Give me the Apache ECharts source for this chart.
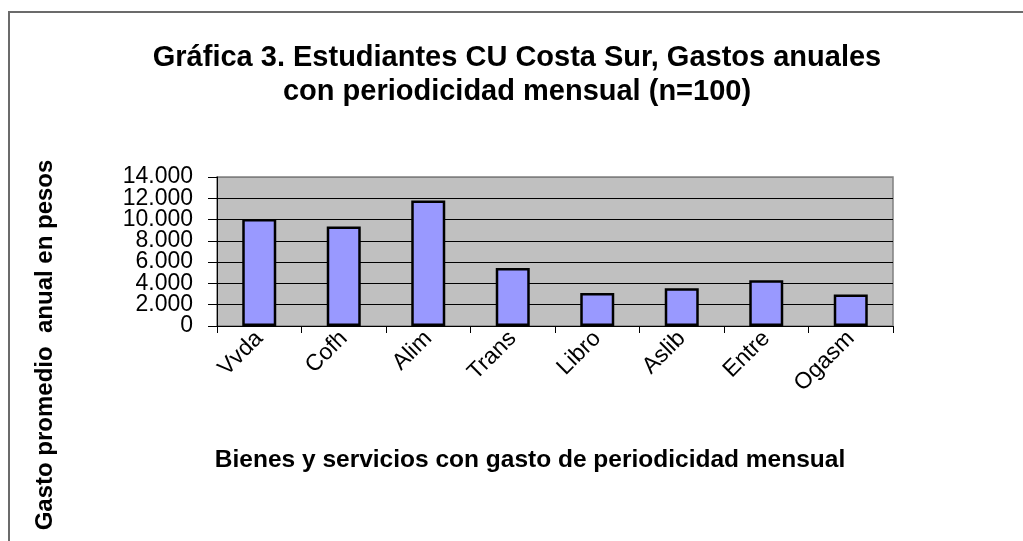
<!DOCTYPE html>
<html>
<head>
<meta charset="utf-8">
<script src="https://cdn.jsdelivr.net/npm/echarts@6/dist/echarts.min.js"></script>
<style>
  html, body { margin: 0; padding: 0; background: #ffffff; }
  #chart { position: absolute; left: 0; top: 0; width: 1023px; height: 541px; }
  #frame {
    position: absolute; left: 8px; top: 11px; right: 0; bottom: 0;
    border-left: 2px solid #6b6b6b; border-top: 2px solid #6b6b6b;
    pointer-events: none;
  }
</style>
</head>
<body>
<div id="chart"></div>
<div id="frame"></div>
<script>
const titleLines = ["Gráfica 3. Estudiantes CU Costa Sur, Gastos anuales", "con periodicidad mensual (n=100)"];
const xTitle = "Bienes y servicios con gasto de periodicidad mensual";
const yTitle = "Gasto promedio  anual en pesos";
const categories = ["Vvda", "Cofh", "Alim", "Trans", "Libro", "Aslib", "Entre", "Ogasm"];
const gasto = [10050, 9350, 11800, 5450, 3100, 3550, 4300, 2970];
const yTicks = [0, 2000, 4000, 6000, 8000, 10000, 12000, 14000];

const font = "'Liberation Sans', Arial, sans-serif";
const chart = echarts.init(document.getElementById("chart"));

// grid line at the top takes the plot border colour, the rest are black
const splitColors = yTicks.map((v, i) => (i === yTicks.length - 1 ? "#808080" : "#000000"));

// the big tick labels touch each other, so they are shared between two
// overlaid axes (even / odd steps) to stop echarts hiding any of them
const fmt = (v) => v.toLocaleString("de-DE");
const labelFor = (odd) => (v) => ((v / 2000) % 2 === (odd ? 1 : 0) ? fmt(v) : "");
const yLabel = {
  color: "#000",
  fontFamily: font,
  fontSize: 23,
  margin: 24,
  showMinLabel: true,
  showMaxLabel: true,
};

chart.setOption({
  backgroundColor: "#ffffff",
  animation: false,
  title: {
    text: titleLines.join("\n"),
    left: 512,
    top: 36,
    textAlign: "center",
    textStyle: { fontFamily: font, fontSize: 29, fontWeight: "bold", color: "#000", lineHeight: 34 },
  },
  graphic: [
    {
      type: "text",
      x: 530,
      y: 460,
      style: {
        text: xTitle,
        font: "bold 24.5px " + font,
        fill: "#000",
        textAlign: "center",
        textVerticalAlign: "middle",
      },
    },
    {
      type: "text",
      x: 45,
      y: 345,
      rotation: Math.PI / 2,
      style: {
        text: yTitle,
        font: "bold 24px " + font,
        fill: "#000",
        textAlign: "center",
        textVerticalAlign: "middle",
      },
    },
  ],
  grid: {
    left: 217,
    right: 130,
    top: 177,
    bottom: 215,
    show: true,
    backgroundColor: "#c0c0c0",
    borderColor: "#808080",
    borderWidth: 1.5,
  },
  xAxis: {
    type: "category",
    data: categories,
    boundaryGap: true,
    axisLine: { lineStyle: { color: "#000", width: 1 } },
    axisTick: { show: true, length: 7, lineStyle: { color: "#000" } },
    axisLabel: {
      rotate: 45,
      margin: 9,
      color: "#000",
      fontFamily: font,
      fontSize: 23,
      interval: 0,
    },
    splitLine: { show: false },
  },
  yAxis: [
    {
      type: "value",
      min: 0,
      max: 14000,
      interval: 2000,
      axisLine: { show: true, lineStyle: { color: "#000", width: 1 } },
      axisTick: { show: true, length: 9, lineStyle: { color: "#000" } },
      axisLabel: { ...yLabel, formatter: labelFor(false) },
      splitLine: { show: true, lineStyle: { color: splitColors, width: 1 } },
    },
    {
      type: "value",
      position: "left",
      min: 0,
      max: 14000,
      interval: 2000,
      axisLine: { show: false },
      axisTick: { show: false },
      axisLabel: { ...yLabel, formatter: labelFor(true) },
      splitLine: { show: false },
    },
  ],
  series: [
    {
      type: "bar",
      data: gasto,
      barWidth: 34,
      itemStyle: { color: "#9999ff", borderColor: "#000", borderWidth: 2.5 },
    },
  ],
});
</script>
</body>
</html>
